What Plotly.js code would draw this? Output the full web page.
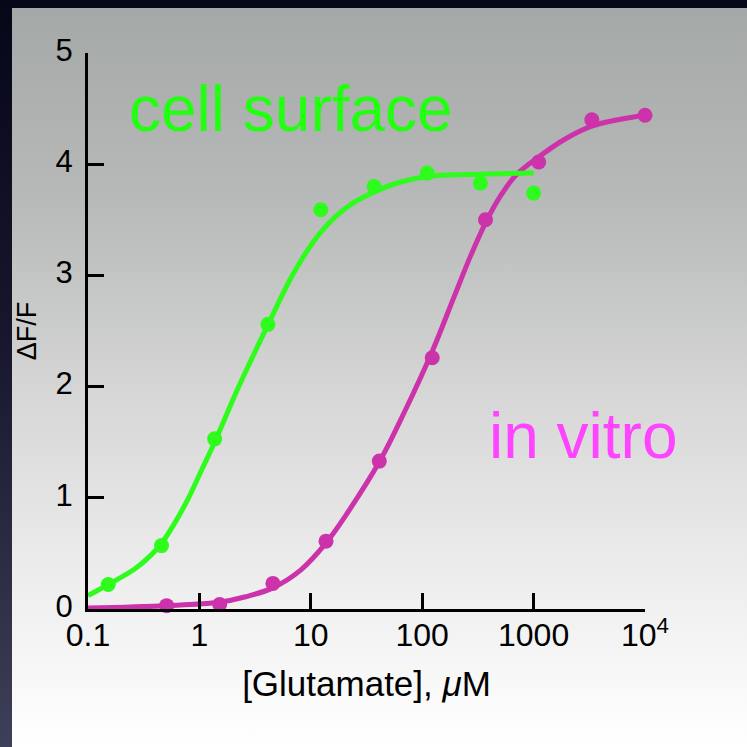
<!DOCTYPE html>
<html><head><meta charset="utf-8">
<script src="https://cdn.plot.ly/plotly-3.0.1.min.js"></script>
<style>
html,body{margin:0;padding:0;width:747px;height:747px;overflow:hidden;background:#06061a;}
#frame{position:absolute;left:0;top:0;width:747px;height:747px;background:linear-gradient(to bottom,#07071a 0%,#16172c 45%,#3e3f58 100%);}
#panel{position:absolute;left:12px;top:8px;width:735px;height:739px;background:linear-gradient(to bottom,#a4a8a6 0%,#b6b9b7 25%,#d5d6d5 52%,#eeeeee 78%,#ffffff 100%);}
#chart{position:absolute;left:0;top:0;width:747px;height:747px;}
</style></head>
<body>
<div id="frame"></div><div id="panel"></div><div id="chart"></div>
<script>
// cell surface data points
const cellX = [0.152, 0.457, 1.37, 4.12, 12.3, 37, 111, 333, 1000];
const cellY = [0.22, 0.57, 1.53, 2.56, 3.59, 3.80, 3.92, 3.83, 3.74];
// cell surface fitted curve
const cellFitX = [0.1, 0.152, 0.262, 0.364, 0.457, 0.598, 0.8, 1.047, 1.37, 2.23, 4.1, 7, 12.3, 21.5, 37, 64, 111, 333, 1000];
const cellFitY = [0.12, 0.22, 0.36, 0.48, 0.59, 0.77, 1.0, 1.25, 1.50, 1.99, 2.55, 3.02, 3.39, 3.62, 3.75, 3.84, 3.89, 3.91, 3.92];
// in vitro data points
const vitroX = [0.508, 1.52, 4.57, 13.7, 41.2, 123, 370, 1111, 3333, 10000];
const vitroY = [0.03, 0.04, 0.23, 0.61, 1.33, 2.26, 3.50, 4.02, 4.40, 4.44];
// in vitro fitted curve
const vitroFitX = [0.1, 0.507, 1.49, 2.6, 4.55, 8.11, 13.6, 21.5, 41.6, 68.4, 124.5, 192, 273, 373, 508, 693, 1093, 1872, 3272, 5721, 10000];
const vitroFitY = [0.01, 0.03, 0.06, 0.11, 0.19, 0.35, 0.59, 0.87, 1.33, 1.76, 2.33, 2.80, 3.18, 3.48, 3.72, 3.90, 4.06, 4.22, 4.34, 4.40, 4.44];
// ticks
const xTickVals = [0.1, 1, 10, 100, 1000, 10000];
const xTickText = ['0.1', '1', '10', '100', '1000', '10<sup>4</sup>'];
const yTickVals = [0, 1, 2, 3, 4, 5];
const yTickText = ['0', '1', '2', '3', '4', '5'];
const seriesNames = ['cell surface', 'in vitro'];

const FONT = 'Liberation Sans, Arial, Helvetica, sans-serif';
const GREEN = '#2efc1c';
const MAG = '#cc33aa';

const traces = [
  {x: vitroFitX, y: vitroFitY, mode: 'lines', line: {color: MAG, width: 5, shape: 'spline', smoothing: 1}, hoverinfo: 'skip', cliponaxis: false},
  {x: vitroX, y: vitroY, mode: 'markers', marker: {color: MAG, size: 15}, name: seriesNames[1], cliponaxis: false},
  {x: cellFitX, y: cellFitY, mode: 'lines', line: {color: GREEN, width: 5, shape: 'spline', smoothing: 1}, hoverinfo: 'skip', cliponaxis: false},
  {x: cellX, y: cellY, mode: 'markers', marker: {color: GREEN, size: 15}, name: seriesNames[0], cliponaxis: false}
];

const axisCommon = {
  showline: true, linewidth: 3, linecolor: '#000', mirror: false,
  ticks: 'inside', ticklen: 16, tickwidth: 3, tickcolor: '#000',
  showgrid: false, zeroline: false, automargin: false, fixedrange: true
};

const layout = {
  width: 747, height: 747,
  margin: {l: 88, r: 102, t: 53, b: 138},
  paper_bgcolor: 'rgba(0,0,0,0)', plot_bgcolor: 'rgba(0,0,0,0)',
  showlegend: false,
  font: {family: FONT, color: '#000'},
  xaxis: Object.assign({}, axisCommon, {
    type: 'log', range: [-1, 4], tickmode: 'array', tickvals: xTickVals, ticktext: xTickText,
    tickfont: {family: FONT, size: 32, color: '#000'},
    ticklabelstandoff: -4,
    title: {text: '[Glutamate], <i>μ</i>M', font: {family: FONT, size: 35, color: '#000'}, standoff: 20}
  }),
  yaxis: Object.assign({}, axisCommon, {
    range: [0, 5], tickmode: 'array', tickvals: yTickVals, ticktext: yTickText,
    tickfont: {family: FONT, size: 31, color: '#000'},
    ticklabelstandoff: 6, ticklabelshift: -3,
    title: {text: 'ΔF/F', font: {family: FONT, size: 27, color: '#000'}, standoff: 12}
  }),
  annotations: [
    {text: seriesNames[0], xref: 'paper', yref: 'paper', x: 0.07, y: 0.9, xanchor: 'left', yanchor: 'middle',
     showarrow: false, font: {family: FONT, size: 64, color: '#22ff11'}},
    {text: seriesNames[1], xref: 'paper', yref: 'paper', x: 0.716, y: 0.311, xanchor: 'left', yanchor: 'middle',
     showarrow: false, font: {family: FONT, size: 64, color: '#ff44ff'}}
  ]
};

Plotly.newPlot('chart', traces, layout, {staticPlot: true, displayModeBar: false});
</script>
</body></html>
